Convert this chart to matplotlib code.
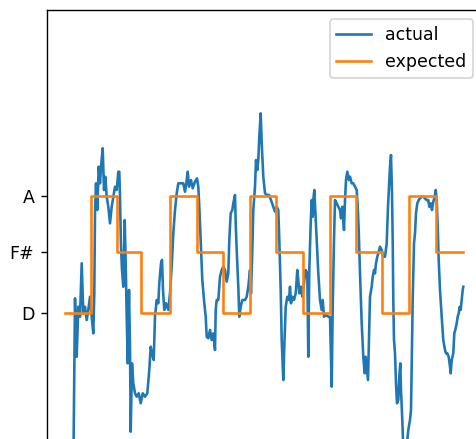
import matplotlib
matplotlib.use("Agg")
import matplotlib.pyplot as plt

# Note frequencies (Hz) used for the y ticks
note_labels = ["D", "F#", "A"]
note_freqs = [293.66, 369.99, 440.00]

# Expected melody: onset times (s) and pitch (Hz); last entry closes the final note
expected_t = [0.0, 0.257, 0.523, 0.76, 1.05, 1.317, 1.583, 1.85, 2.11, 2.377,
              2.65, 2.907, 3.167, 3.44, 3.71, 3.983]
expected_hz = [293.66, 440.0, 369.99, 293.66, 440.0, 369.99, 293.66, 440.0, 369.99,
               293.66, 440.0, 369.99, 293.66, 440.0, 369.99, 369.99]

# Detected pitch track: time (s) and frequency (Hz)
actual_t = [
    0.085, 0.10, 0.117, 0.133, 0.15, 0.167, 0.183, 0.20, 0.217, 0.233,
    0.25, 0.267, 0.283, 0.293, 0.30, 0.31, 0.323, 0.337, 0.35, 0.363,
    0.377, 0.39, 0.403, 0.417, 0.433, 0.45, 0.467, 0.483, 0.50, 0.517,
    0.533, 0.543, 0.55, 0.56, 0.57, 0.583, 0.597, 0.607, 0.617, 0.627,
    0.64, 0.65, 0.657, 0.67, 0.683, 0.70, 0.717, 0.737, 0.757, 0.777,
    0.80, 0.823, 0.843, 0.857, 0.87, 0.887, 0.90, 0.917, 0.933, 0.943,
    0.96, 0.97, 0.98, 0.993, 1.01, 1.033, 1.05, 1.067, 1.083, 1.10,
    1.117, 1.133, 1.16, 1.183, 1.20, 1.213, 1.227, 1.24, 1.26, 1.277,
    1.30, 1.32, 1.333, 1.343, 1.357, 1.373, 1.39, 1.407, 1.417, 1.433,
    1.45, 1.467, 1.483, 1.50, 1.507, 1.517, 1.533, 1.55, 1.567, 1.583,
    1.60, 1.617, 1.633, 1.643, 1.657, 1.673, 1.683, 1.70, 1.707, 1.717,
    1.733, 1.743, 1.757, 1.773, 1.80, 1.817, 1.833, 1.85, 1.86, 1.873,
    1.883, 1.90, 1.91, 1.923, 1.933, 1.943, 1.957, 1.967, 1.983, 2.00,
    2.02, 2.04, 2.06, 2.083, 2.10, 2.117, 2.133, 2.143, 2.157, 2.167,
    2.183, 2.193, 2.207, 2.223, 2.24, 2.25, 2.26, 2.273, 2.29, 2.307,
    2.323, 2.333, 2.343, 2.36, 2.373, 2.383, 2.393, 2.407, 2.423, 2.433,
    2.443, 2.457, 2.467, 2.477, 2.483, 2.493, 2.503, 2.517, 2.533, 2.55,
    2.567, 2.577, 2.59, 2.61, 2.633, 2.65, 2.667, 2.677, 2.69, 2.70,
    2.717, 2.733, 2.75, 2.76, 2.773, 2.79, 2.80, 2.81, 2.823, 2.84,
    2.85, 2.867, 2.883, 2.90, 2.917, 2.927, 2.937, 2.95, 2.967, 2.983,
    2.997, 3.007, 3.017, 3.03, 3.04, 3.05, 3.067, 3.077, 3.09, 3.10,
    3.11, 3.123, 3.133, 3.15, 3.167, 3.183, 3.20, 3.217, 3.23, 3.24,
    3.25, 3.26, 3.27, 3.277, 3.283, 3.29, 3.30, 3.31, 3.32, 3.333,
    3.343, 3.353, 3.36, 3.373, 3.385, 3.405, 3.423, 3.433, 3.45, 3.46,
    3.467, 3.477, 3.49, 3.50, 3.51, 3.523, 3.537, 3.55, 3.567, 3.583,
    3.60, 3.617, 3.633, 3.643, 3.657, 3.67, 3.683, 3.697, 3.707, 3.717,
    3.727, 3.737, 3.75, 3.767, 3.783, 3.80, 3.81, 3.823, 3.837, 3.85,
    3.857, 3.867, 3.883, 3.893, 3.903, 3.917, 3.927, 3.937, 3.947, 3.957,
    3.967, 3.977, 3.983,
]
actual_hz = [
    120.0, 312.3, 239.6, 301.8, 289.4, 355.9, 293.6, 301.8, 285.3, 297.8,
    314.3, 289.4, 268.7, 318.5, 418.1, 455.4, 422.2, 476.1, 455.4, 480.3,
    499.0, 447.1, 463.6, 438.7, 426.3, 405.6, 426.3, 438.7, 451.2, 447.1,
    469.8, 469.8, 438.7, 376.5, 347.5, 326.7, 409.7, 355.9, 289.4, 231.4,
    322.7, 252.1, 146.3, 231.4, 206.5, 194.1, 189.9, 194.1, 181.7, 194.1,
    189.9, 194.1, 223.1, 252.1, 243.9, 235.5, 289.4, 310.2, 306.1, 331.0,
    355.9, 360.0, 322.7, 297.8, 306.1, 297.8, 318.5, 351.6, 393.2, 422.2,
    443.0, 455.4, 455.4, 455.4, 444.9, 455.4, 469.8, 451.2, 459.5, 449.2,
    457.4, 461.6, 451.2, 426.3, 384.8, 335.1, 310.2, 289.4, 264.5, 262.5,
    272.9, 260.4, 268.7, 248.0, 297.8, 310.2, 310.2, 339.2, 347.5, 351.6,
    347.5, 333.0, 343.4, 384.8, 418.1, 422.2, 430.5, 440.9, 405.6, 372.4,
    326.7, 289.4, 301.8, 310.2, 310.2, 314.3, 326.7, 347.5, 318.5, 372.4,
    422.2, 451.2, 484.4, 472.0, 484.4, 513.4, 542.5, 505.2, 463.6, 443.0,
    440.9, 440.9, 434.6, 426.3, 420.1, 426.3, 422.2, 384.8, 322.7, 260.4,
    210.6, 252.1, 301.8, 314.3, 310.2, 326.7, 306.1, 314.3, 310.2, 318.5,
    347.5, 335.1, 318.5, 326.7, 314.3, 322.7, 335.1, 347.5, 343.4, 239.6,
    347.5, 405.6, 434.6, 413.8, 434.6, 447.1, 422.2, 384.8, 343.4, 310.2,
    297.8, 310.2, 289.4, 291.5, 289.4, 289.4, 202.3, 301.8, 384.8, 434.6,
    430.5, 426.3, 422.2, 411.8, 426.3, 397.3, 434.6, 459.5, 469.8, 459.5,
    463.6, 455.4, 455.4, 451.2, 447.1, 426.3, 397.3, 343.4, 281.2, 239.6,
    219.0, 239.6, 227.2, 210.6, 260.4, 314.3, 326.7, 339.2, 347.5, 343.4,
    355.9, 364.1, 368.3, 376.5, 372.4, 364.1, 364.1, 380.7, 426.3, 451.2,
    476.1, 490.6, 443.0, 384.8, 310.2, 260.4, 243.9, 206.5, 181.7, 185.8,
    214.8, 231.4, 198.2, 160.9, 117.3, 111.1, 136.0, 148.4, 160.9, 173.3,
    227.2, 310.2, 380.7, 393.2, 418.1, 430.5, 434.6, 436.7, 438.7, 438.7,
    436.7, 434.6, 434.6, 426.3, 430.5, 422.2, 432.5, 438.7, 447.1, 434.6,
    401.4, 360.0, 322.7, 289.4, 260.4, 248.0, 243.9, 243.9, 239.6, 227.2,
    219.0, 235.5, 243.9, 268.7, 272.9, 281.2, 289.4, 293.6, 301.8, 297.8,
    310.2, 322.7, 326.7,
]

fig = plt.figure(figsize=(3.808, 3.512), dpi=125)
# The axes extends past the right and bottom edges of the canvas
ax = fig.add_axes([0.0977, -0.0478, 0.9149, 1.0239])

ax.plot(actual_t, actual_hz, color="#1f77b4", lw=1.5, label="actual")
ax.step(expected_t, expected_hz, where="post", color="#ff7f0e", lw=1.5,
        label="expected")

ax.set_xlim(-0.185, 4.17)
ax.set_ylim(111.1, 670.5)
ax.set_xticks([])
ax.set_yticks(note_freqs)
ax.set_yticklabels(note_labels)

ax.legend(loc="upper right", bbox_to_anchor=(473.3 / 476, 1 - 19.3 / 439),
          bbox_transform=fig.transFigure, borderaxespad=0)

fig.savefig("out.png", dpi=125)
